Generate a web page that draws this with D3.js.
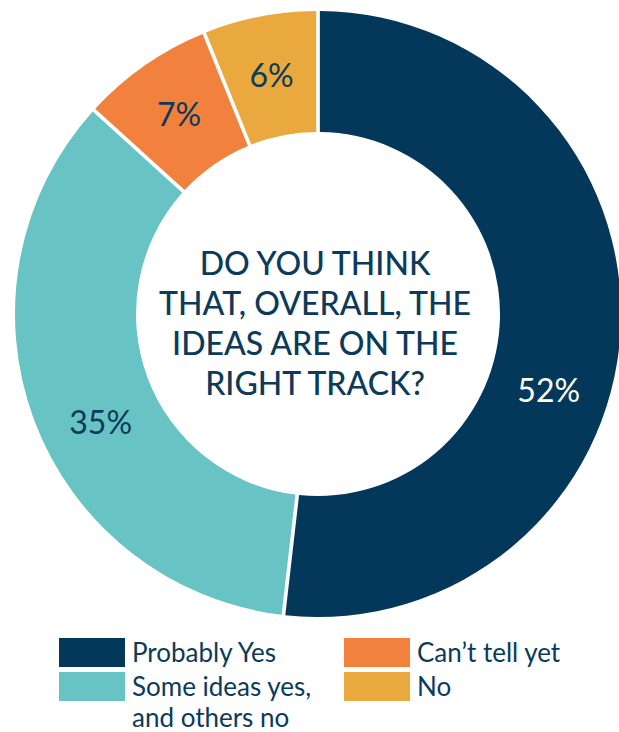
<!DOCTYPE html>
<html>
<head>
<meta charset="utf-8">
<script src="https://cdn.jsdelivr.net/npm/d3@7"></script>
<style>
  body { margin: 0; background: #fff; }
  svg { display: block; }
  text { font-family: "Lato", "Open Sans", sans-serif; }
</style>
</head>
<body>
<svg width="619" height="732"></svg>
<script>
// survey answers, clockwise from 12 o'clock
var categories = ["Probably Yes", "Some ideas yes, and others no", "Can\u2019t tell yet", "No"];
var values = [52, 35, 7, 6];
var colorList = ["#04385a", "#68c3c5", "#f3813e", "#eaa93e"];
var labelColors = ["#ffffff", "#0b3a5a", "#0b3a5a", "#0b3a5a"];
var questionLines = ["DO YOU THINK", "THAT, OVERALL, THE", "IDEAS ARE ON THE", "RIGHT TRACK?"];

// label nudges along the ring (degrees), the original labels are not all on the centroid
var labelNudge = [15, -6, 0, 0];

var svg = d3.select("svg"),
    cx = 318,
    cy = 314,
    outerR = 303,
    innerR = 182,
    navy = "#0b3a5a";

var color = d3.scaleOrdinal()
    .domain(categories)
    .range(colorList);

var pie = d3.pie()
    .sort(null)
    .value(function (d) { return d.value; })
    .padAngle(0.0105);

var arc = d3.arc()
    .innerRadius(innerR)
    .outerRadius(outerR);

var data = categories.map(function (c, i) {
    return { name: c, value: values[i], idx: i };
});

var g = svg.append("g")
    .attr("transform", "translate(" + cx + "," + cy + ")");

var arcs = pie(data);

g.selectAll(".slice")
    .data(arcs)
    .enter()
    .append("path")
    .attr("class", "slice")
    .attr("d", arc)
    .attr("fill", function (d) { return color(d.data.name); });

var labelR = 243;
g.selectAll(".pct")
    .data(arcs)
    .enter()
    .append("text")
    .attr("class", "pct")
    .attr("transform", function (d, i) {
        var a = (d.startAngle + d.endAngle) / 2 + labelNudge[i] * Math.PI / 180;
        return "translate(" + (labelR * Math.sin(a)) + "," + (-labelR * Math.cos(a)) + ")";
    })
    .attr("text-anchor", "middle")
    .attr("dy", "0.36em")
    .style("font-size", "32px")
    .style("font-weight", 400)
    .style("fill", function (d, i) { return labelColors[i]; })
    .text(function (d) { return d.data.value + "%"; });

// question in the hole
var q = g.append("text")
    .attr("text-anchor", "middle")
    .style("font-size", "32px")
    .style("font-weight", 500)
    .style("fill", navy);

q.selectAll("tspan")
    .data(questionLines)
    .enter()
    .append("tspan")
    .attr("x", -3)
    .attr("y", function (d, i) { return -39 + i * 40; })
    .text(function (d) { return d; });

// legend, two columns
var legendItems = [
    { name: categories[0], lines: ["Probably Yes"], x: 59, y: 638 },
    { name: categories[1], lines: ["Some ideas yes,", "and others no"], x: 59, y: 672 },
    { name: categories[2], lines: ["Can\u2019t tell yet"], x: 344, y: 638 },
    { name: categories[3], lines: ["No"], x: 344, y: 672 }
];

var leg = svg.selectAll(".legend")
    .data(legendItems)
    .enter()
    .append("g")
    .attr("class", "legend")
    .attr("transform", function (d) { return "translate(" + d.x + "," + d.y + ")"; });

leg.append("rect")
    .attr("width", 66)
    .attr("height", 29)
    .attr("fill", function (d) { return color(d.name); });

leg.append("text")
    .style("font-size", "26px")
    .style("fill", navy)
    .selectAll("tspan")
    .data(function (d) { return d.lines; })
    .enter()
    .append("tspan")
    .attr("x", 73)
    .attr("y", function (d, i) { return 24 + i * 31; })
    .text(function (d) { return d; });
</script>
</body>
</html>
